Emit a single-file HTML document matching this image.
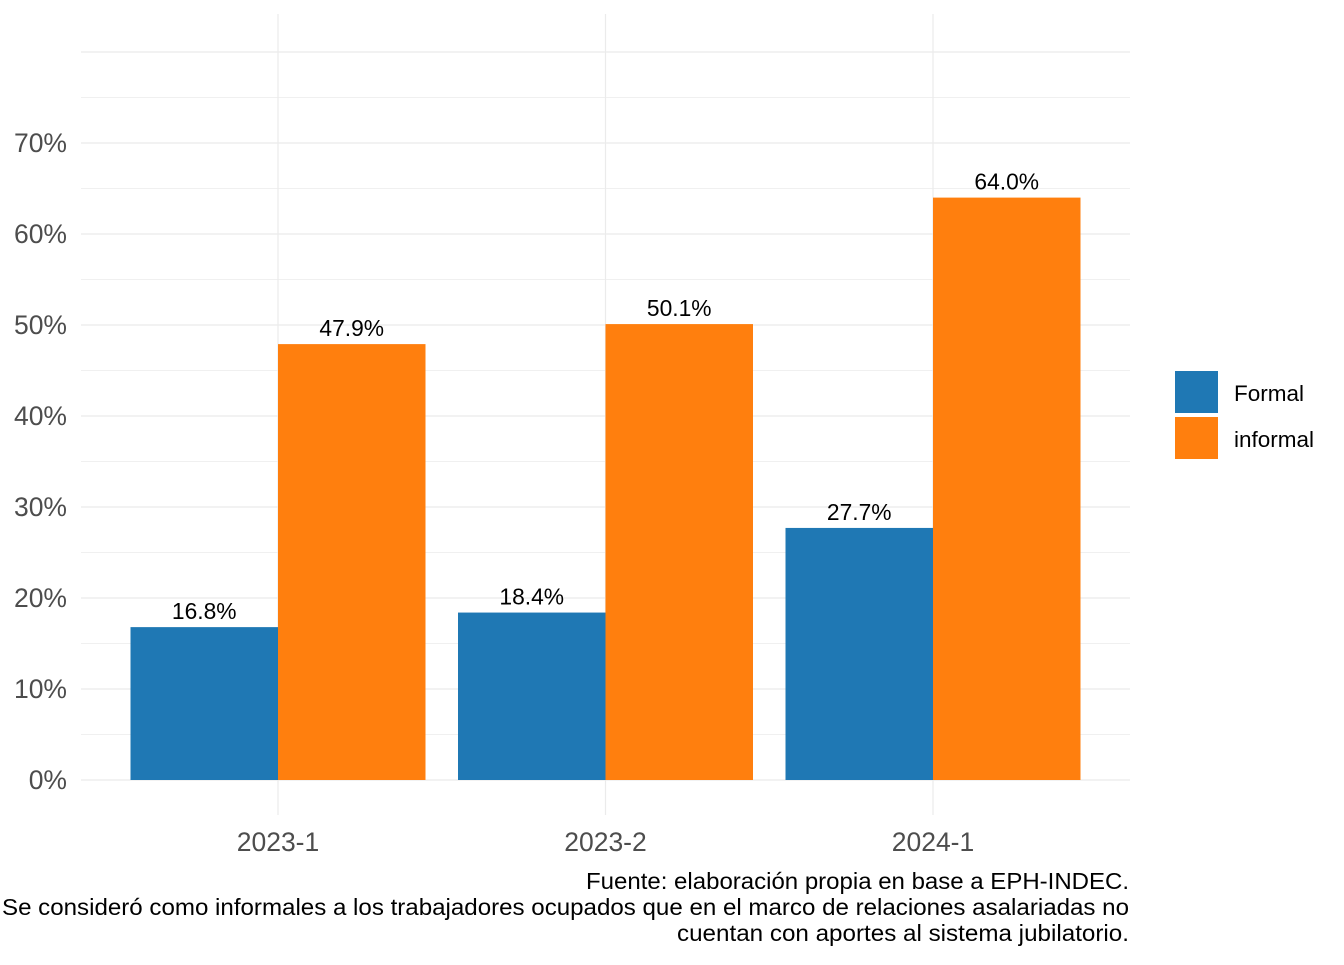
<!DOCTYPE html>
<html><head><meta charset="utf-8"><style>
body{margin:0;background:#fff;font-family:"Liberation Sans",sans-serif}
</style></head><body>
<svg id="chart" width="1344" height="960" xmlns="http://www.w3.org/2000/svg" font-family="Liberation Sans, sans-serif">
<g id="grid"></g>
<g id="bars"></g>
<g id="ylab"></g>
<g id="xlab"></g>
<g>
<rect x="1175" y="371" width="43" height="42" fill="#1f78b4"/>
<text x="1234" y="401" font-size="22.5" fill="#000">Formal</text>
<rect x="1175" y="417" width="43" height="42" fill="#ff7f0e"/>
<text x="1234" y="447" font-size="22.5" fill="#000">informal</text>
</g>
<g font-size="23.5" fill="#000" text-anchor="end">
<text x="1129" y="889" textLength="543" lengthAdjust="spacingAndGlyphs">Fuente: elaboración propia en base a EPH-INDEC.</text>
<text x="1129" y="915" textLength="1127" lengthAdjust="spacingAndGlyphs">Se consideró como informales a los trabajadores ocupados que en el marco de relaciones asalariadas no</text>
<text x="1129" y="941" textLength="452" lengthAdjust="spacingAndGlyphs">cuentan con aportes al sistema jubilatorio.</text>
</g>
</svg>
<script>
const categories=["2023-1","2023-2","2024-1"];
const formal=[16.8,18.4,27.7];
const informal=[47.9,50.1,64.0];
const yTicks=[0,10,20,30,40,50,60,70];
const NS="http://www.w3.org/2000/svg";
const y=v=>780-v*9.1;
const x=i=>278+i*327.5;
const bw=147.5;
function mk(tag,attrs,parent){const e=document.createElementNS(NS,tag);for(const k in attrs)e.setAttribute(k,attrs[k]);parent.appendChild(e);return e;}
const grid=document.getElementById('grid'),bars=document.getElementById('bars'),yl=document.getElementById('ylab'),xl=document.getElementById('xlab');
for(let v=0;v<=80;v+=5){const l=mk('line',{x1:81,x2:1130,y1:y(v),y2:y(v),stroke:'#ebebeb','stroke-width':v%10===0?1.2:0.7},grid);

}
categories.forEach((c,i)=>{const l=mk('line',{x1:x(i),x2:x(i),y1:14,y2:815,stroke:'#ebebeb','stroke-width':1.2},grid);

});
yTicks.forEach(v=>{const t=mk('text',{x:67,y:y(v)+9,'font-size':26.5,fill:'#4d4d4d','text-anchor':'end'},yl);t.textContent=v+'%';

});
categories.forEach((c,i)=>{
const t=mk('text',{x:x(i),y:851,'font-size':26.5,fill:'#4d4d4d','text-anchor':'middle'},xl);t.textContent=c;


const b1=mk('rect',{x:x(i)-bw,y:y(formal[i]),width:bw,height:y(0)-y(formal[i]),fill:'#1f78b4'},bars);


const b2=mk('rect',{x:x(i),y:y(informal[i]),width:bw,height:y(0)-y(informal[i]),fill:'#ff7f0e'},bars);


const l1=mk('text',{x:x(i)-bw/2,y:y(formal[i])-8,'font-size':22.8,fill:'#000','text-anchor':'middle'},bars);l1.textContent=formal[i].toFixed(1)+'%';


const l2=mk('text',{x:x(i)+bw/2,y:y(informal[i])-8,'font-size':22.8,fill:'#000','text-anchor':'middle'},bars);l2.textContent=informal[i].toFixed(1)+'%';


});
</script>
</body></html>
